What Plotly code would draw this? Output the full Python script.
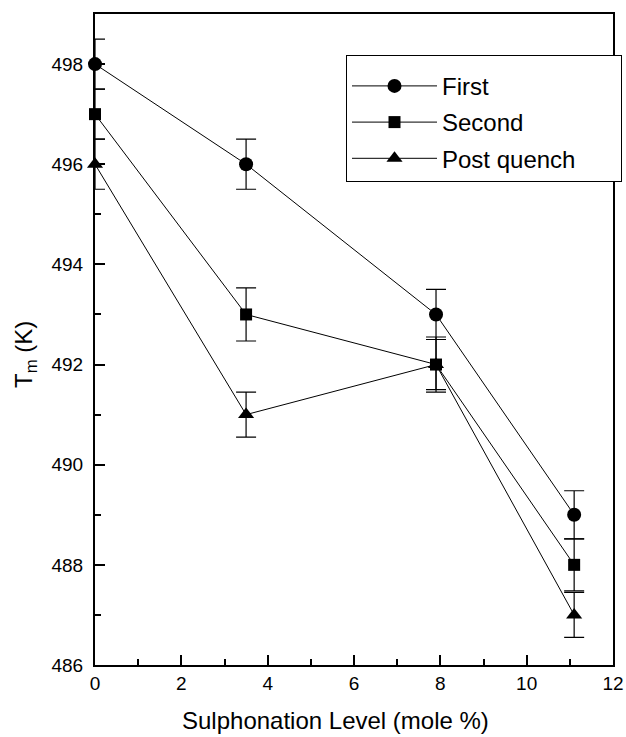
import plotly.graph_objects as go

sulph = [0, 3.5, 7.9, 11.1]
first = [498, 496, 493, 489]
first_err = [0.5, 0.5, 0.5, 0.48]
second = [497, 493, 492, 488]
second_err = [0.5, 0.53, 0.55, 0.52]
post = [496, 491, 492, 487]
post_err = [0.5, 0.45, 0.5, 0.45]

series = [
    ("First", first, first_err, "circle", 14),
    ("Second", second, second_err, "square", 12),
    ("Post quench" + "\u00a0" * 6, post, post_err, "triangle-up", 14),
]

fig = go.Figure()
for i, (name, y, e, sym, sz) in enumerate(series):
    fig.add_trace(go.Scatter(
        x=sulph, y=y, name=name, mode="lines+markers",
        legendgroup=f"g{i}",
        line=dict(color="black", width=1),
        marker=dict(symbol=sym, size=sz, color="black"),
        error_y=dict(type="data", array=e, visible=True, color="black",
                     thickness=1.2, width=10),
        cliponaxis=False,
    ))

font = "Liberation Sans, Arial, sans-serif"
axis_common = dict(
    showgrid=False, zeroline=False, showline=True, linecolor="black",
    linewidth=2, mirror=True, ticks="inside", tickcolor="black",
    tickwidth=2, ticklen=10,
    tickfont=dict(family=font, size=19, color="black"),
)
fig.update_xaxes(range=[0, 12], dtick=2, tick0=0,
                 minor=dict(dtick=1, ticks="inside", ticklen=6, tickwidth=2, tickcolor="black"),
                 **axis_common)
fig.update_yaxes(range=[486, 499], dtick=2, tick0=486,
                 minor=dict(dtick=1, ticks="inside", ticklen=6, tickwidth=2, tickcolor="black"),
                 ticklabelstandoff=6,
                 **axis_common)

fig.add_annotation(text="Sulphonation Level (mole %)", xref="paper", yref="paper",
                   x=(335 - 95) / 518, y=-(720 - 665) / 651, showarrow=False,
                   xanchor="center", yanchor="middle",
                   font=dict(family=font, size=24, color="black"))
fig.add_annotation(text="T<sub>m</sub> (K)", xref="paper", yref="paper",
                   x=-(95 - 25) / 518, y=(665 - 355) / 651, showarrow=False,
                   textangle=-90, xanchor="center", yanchor="middle",
                   font=dict(family=font, size=24, color="black"))

fig.update_layout(
    width=626, height=737,
    margin=dict(l=95, r=13, t=14, b=72, autoexpand=False),
    paper_bgcolor="white", plot_bgcolor="white",
    showlegend=True,
    legend=dict(x=(346 - 95) / 518, y=(665 - 55) / 651, xanchor="left", yanchor="top",
                bordercolor="black", borderwidth=1, bgcolor="white",
                font=dict(family=font, size=24, color="black"),
                title=dict(text="\u00a0", font=dict(size=6)),
                tracegroupgap=2, itemwidth=85),
)

fig.write_html("out.html")
